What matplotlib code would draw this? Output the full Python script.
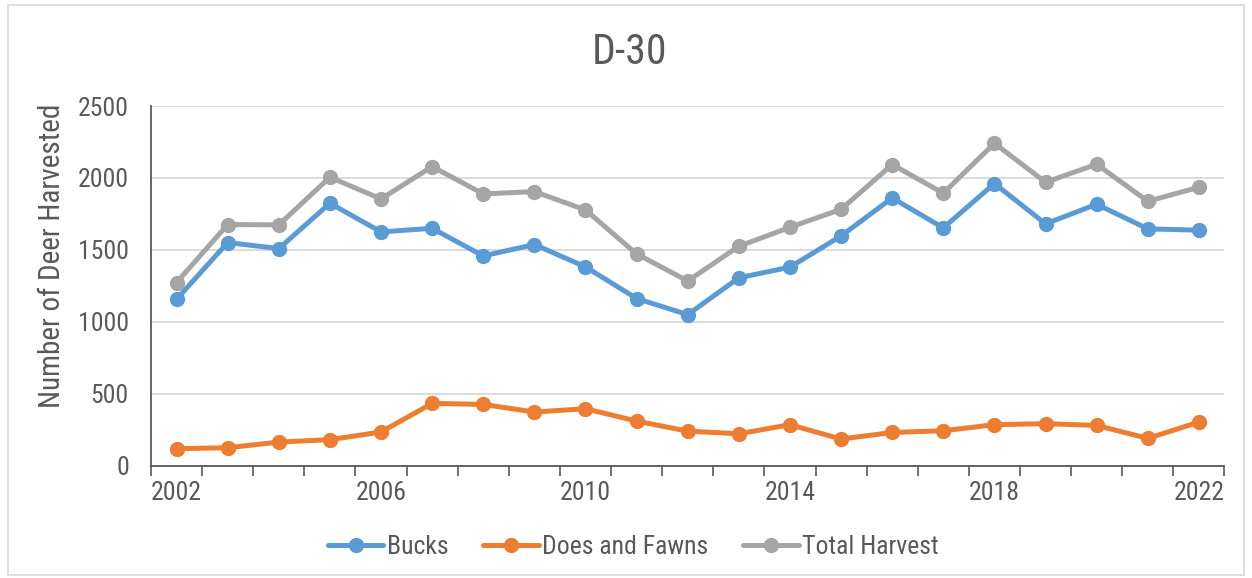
import matplotlib
matplotlib.use('Agg')
import matplotlib.pyplot as plt
from matplotlib import font_manager
from matplotlib.patches import Rectangle

# Data
years = list(range(2002, 2023))
bucks = [1157, 1551, 1509, 1824, 1625, 1650, 1458, 1537, 1382, 1162, 1050,
         1306, 1380, 1597, 1861, 1653, 1961, 1681, 1817, 1646, 1637]
does_fawns = [118, 125, 164, 181, 234, 433, 426, 373, 396, 310, 240,
              222, 285, 185, 231, 243, 285, 292, 280, 190, 303]
total = [1273, 1676, 1674, 2005, 1854, 2079, 1889, 1905, 1778, 1472, 1284,
         1525, 1657, 1782, 2093, 1894, 2241, 1970, 2095, 1838, 1935]
label_years = [2002, 2006, 2010, 2014, 2018, 2022]

TEXT = '#595959'
GRID = '#d9d9d9'

# the reference uses a narrow face; take one if it is installed
installed = {f.name for f in font_manager.fontManager.ttflist}
narrow = None
for cand in ['Roboto Condensed', 'Liberation Sans Narrow', 'Open Sans Condensed',
             'DejaVu Sans Condensed']:
    if cand in installed:
        narrow = cand
        break
if narrow:
    sz = {'tick': 18.5, 'ylab': 21, 'title': 30, 'leg': 18.5}
else:
    narrow = 'DejaVu Sans'
    sz = {'tick': 13.5, 'ylab': 15.5, 'title': 21, 'leg': 13.5}
plt.rcParams['font.family'] = [narrow, 'DejaVu Sans']

fig = plt.figure(figsize=(12.52, 5.78), dpi=100)
ax = fig.add_axes([0.1206, 0.1943, 0.8574, 0.6223])

# light border around the whole chart
fig.patches.append(Rectangle((0.006, 0.006), 0.988, 0.985, transform=fig.transFigure,
                             fill=False, edgecolor=GRID, linewidth=1.2))

series = [
    (bucks, '#5B9BD5', 'Bucks'),
    (does_fawns, '#ED7D31', 'Does and Fawns'),
    (total, '#A5A5A5', 'Total Harvest'),
]
for vals, col, name in series:
    ax.plot(years, vals, color=col, lw=3.6, marker='o', ms=10, label=name,
            solid_capstyle='round')

ax.set_ylim(0, 2500)
ax.set_yticks(range(0, 2501, 500))
ax.set_xlim(years[0] - 0.5, years[-1] + 0.5)

# category axis: ticks at boundaries, labels every 4th year
ax.set_xticks([y - 0.5 for y in years] + [years[-1] + 0.5])
ax.set_xticklabels([])
ax.tick_params(axis='x', which='major', length=7, width=1.2, color='#595959', direction='out')
ax.set_xticks(label_years, minor=True)
ax.set_xticklabels([str(y) for y in label_years], minor=True)
ax.tick_params(axis='x', which='minor', length=0, pad=11, labelsize=sz['tick'], labelcolor=TEXT)
ax.tick_params(axis='y', length=0, pad=16, labelsize=sz['tick'], labelcolor=TEXT)

ax.grid(axis='y', color=GRID, lw=1.3)
ax.set_axisbelow(True)
for s in ['top', 'right']:
    ax.spines[s].set_visible(False)
for s in ['left', 'bottom']:
    ax.spines[s].set_color('#595959')
    ax.spines[s].set_linewidth(1.3)

# y label sits a bit above the axes centre in the reference
ax.set_ylabel('Number of Deer Harvested', fontsize=sz['ylab'], color=TEXT)
ax.yaxis.set_label_coords(-0.079, 0.583)
fig.text(0.503, 0.91, 'D-30', ha='center', va='center', fontsize=sz['title'], color=TEXT)

fig.legend(loc='center', bbox_to_anchor=(0.506, 0.054), ncol=3, frameon=False,
           fontsize=sz['leg'], labelcolor=TEXT, handlelength=2.15, columnspacing=1.35,
           handletextpad=0.15)

fig.savefig('out.png', dpi=100)
